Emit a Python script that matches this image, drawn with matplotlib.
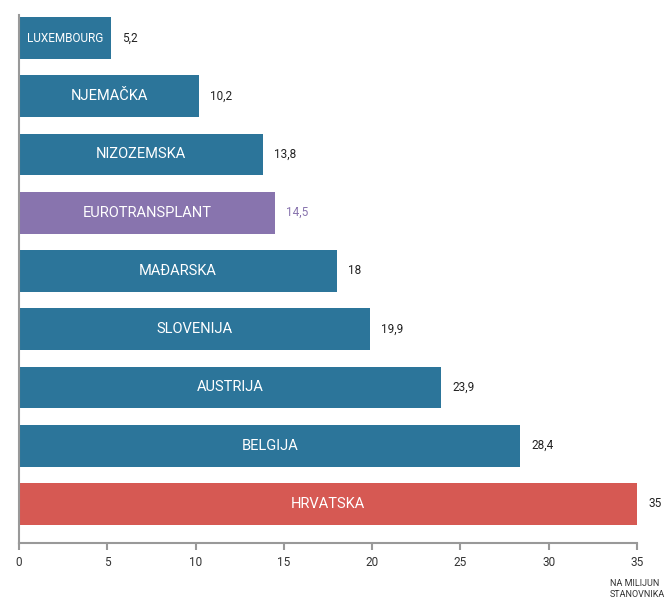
import matplotlib
matplotlib.use("Agg")
import matplotlib.pyplot as plt

countries = ["LUXEMBOURG", "NJEMAČKA", "NIZOZEMSKA", "EUROTRANSPLANT", "MAĐARSKA",
             "SLOVENIJA", "AUSTRIJA", "BELGIJA", "HRVATSKA"]
values = [5.2, 10.2, 13.8, 14.5, 18, 19.9, 23.9, 28.4, 35]
value_labels = ["5,2", "10,2", "13,8", "14,5", "18", "19,9", "23,9", "28,4", "35"]
x_ticks = [0, 5, 10, 15, 20, 25, 30, 35]

BLUE = "#2c759a"
PURPLE = "#8874ae"
RED = "#d65953"


def bar_colour(name):
    if name == "EUROTRANSPLANT":
        return PURPLE
    if name == "HRVATSKA":
        return RED
    return BLUE


def main():
    plt.rcParams["font.family"] = ["Roboto", "DejaVu Sans"]
    fig = plt.figure(figsize=(6.65, 6.05), dpi=100)
    ax = fig.add_axes([19 / 665, 1 - 543 / 605, (637 - 19) / 665, (543 - 15) / 605])

    ypos = list(range(len(countries)))
    colours = [bar_colour(c) for c in countries]
    ax.barh(ypos, values, height=0.72, color=colours)

    for y, v, name, lab, col in zip(ypos, values, countries, value_labels, colours):
        size = 8.5 if name == "LUXEMBOURG" else 10.5
        ax.text(v / 2, y, name, color="white", ha="center", va="center", fontsize=size)
        vcol = PURPLE if name == "EUROTRANSPLANT" else "#222222"
        ax.annotate(lab, (v, y), xytext=(8, 0), textcoords="offset points",
                    ha="left", va="center", fontsize=8.5, color=vcol,
                    annotation_clip=False)

    ax.set_xlim(0, 35)
    ax.set_ylim(8.67, -0.395)
    ax.set_xticks(x_ticks)
    ax.set_xticklabels([str(t) for t in x_ticks], fontsize=8.5, color="#333333")
    ax.set_yticks([])
    for s in ["top", "right"]:
        ax.spines[s].set_visible(False)
    for s in ["left", "bottom"]:
        ax.spines[s].set_color("#999999")
        ax.spines[s].set_linewidth(1.5)
    ax.tick_params(axis="x", length=5, width=1.5, color="#999999", pad=4)

    fig.text(610 / 665, 1 - 579 / 605, "NA MILIJUN\nSTANOVNIKA", fontsize=6.5,
             ha="left", va="top", color="#333333", linespacing=1.35)

    fig.savefig("out.png", dpi=100)


if __name__ == "__main__":
    main()
